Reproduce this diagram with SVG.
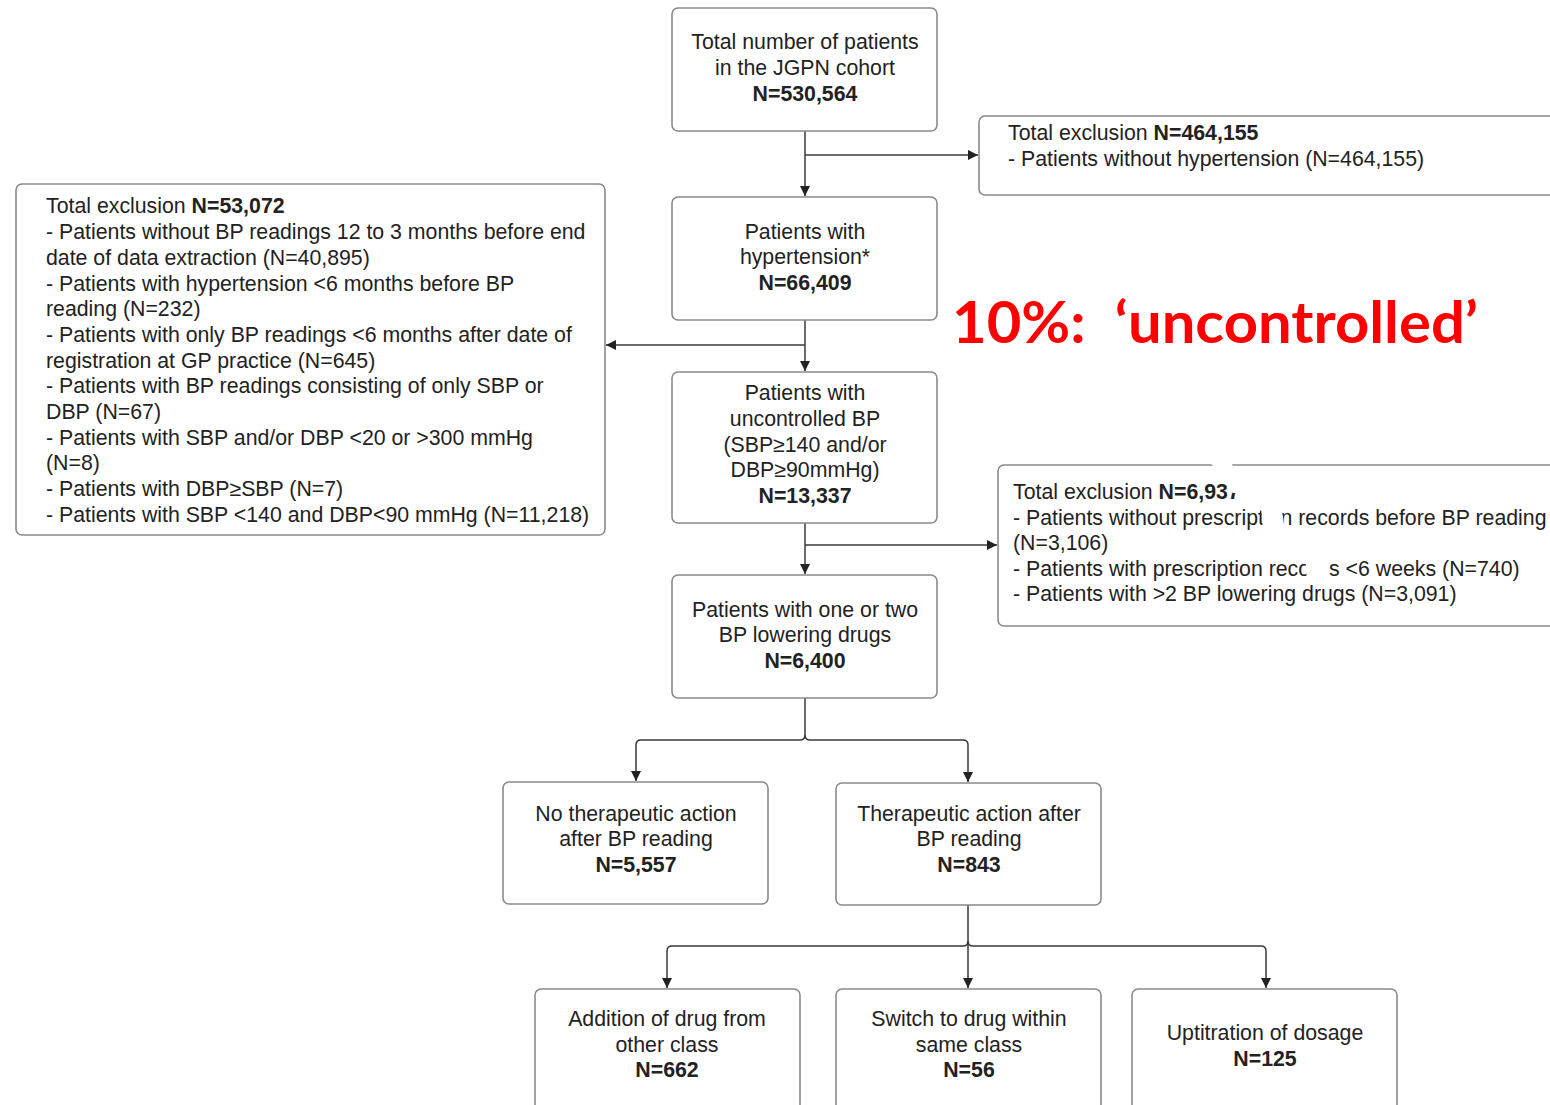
<svg xmlns="http://www.w3.org/2000/svg" width="1550" height="1105" viewBox="0 0 1550 1105">
<style>
.box{fill:#fff;stroke:#8a8a8a;stroke-width:1.6}
.t{font-family:"Liberation Sans",Arial,sans-serif;font-size:21.3px;fill:#222}
.c{text-anchor:middle}
.b{font-weight:bold}
.ln{fill:none;stroke:#3a3a3a;stroke-width:1.5}
.red{font-family:Lato,"Open Sans","Liberation Sans",sans-serif;font-weight:bold;font-size:58px;fill:#ff0000}
.patch{fill:#fff;stroke:none}
</style>
<defs>
<marker id="ah" viewBox="0 0 10 10" refX="10" refY="5" markerWidth="11" markerHeight="10" markerUnits="userSpaceOnUse" orient="auto">
<path d="M0,0 L10,5 L0,10 z" fill="#222"/>
</marker>
</defs>
<rect width="1550" height="1105" fill="#fff"/>

<g id="connectors">
<line class="ln" x1="805" y1="131" x2="805" y2="196" marker-end="url(#ah)"/>
<line class="ln" x1="805" y1="155" x2="978" y2="155" marker-end="url(#ah)"/>
<line class="ln" x1="805" y1="320" x2="805" y2="371" marker-end="url(#ah)"/>
<line class="ln" x1="805" y1="345" x2="606" y2="345" marker-end="url(#ah)"/>
<line class="ln" x1="805" y1="523" x2="805" y2="574" marker-end="url(#ah)"/>
<line class="ln" x1="805" y1="545" x2="997" y2="545" marker-end="url(#ah)"/>
<path class="ln" d="M805,698 V735 Q805,740 800,740 H641 Q636,740 636,745 V781" marker-end="url(#ah)"/>
<path class="ln" d="M805,735 Q805,740 810,740 H963 Q968,740 968,745 V782" marker-end="url(#ah)"/>
<path class="ln" d="M968,905 V941 Q968,946 963,946 H672 Q667,946 667,951 V988" marker-end="url(#ah)"/>
<line class="ln" x1="968" y1="941" x2="968" y2="988" marker-end="url(#ah)"/>
<path class="ln" d="M968,941 Q968,946 973,946 H1261 Q1266,946 1266,951 V988" marker-end="url(#ah)"/>
</g>

<g id="n-total">
<rect class="box" x="672" y="8" width="265" height="123" rx="6"/>
<text class="t c" x="805" y="49">Total number of patients</text>
<text class="t c" x="805" y="75">in the JGPN cohort</text>
<text class="t c b" x="805" y="101">N=530,564</text>
</g>

<g id="n-excl1">
<rect class="box" x="979" y="116" width="620" height="79" rx="6"/>
<text class="t" x="1008" y="140">Total exclusion <tspan class="b">N=464,155</tspan></text>
<text class="t" x="1008" y="166">- Patients without hypertension (N=464,155)</text>
</g>

<g id="n-hyp">
<rect class="box" x="672" y="197" width="265" height="123" rx="6"/>
<text class="t c" x="805" y="239">Patients with</text>
<text class="t c" x="805" y="264">hypertension*</text>
<text class="t c b" x="805" y="290">N=66,409</text>
</g>

<g id="n-label">
<text class="red" x="952" y="343" textLength="526" lengthAdjust="spacingAndGlyphs">10%:&#160; ‘uncontrolled’</text>
</g>

<g id="n-excl2">
<rect class="box" x="16" y="184" width="589" height="351" rx="6"/>
<text class="t" x="46" y="213">Total exclusion <tspan class="b">N=53,072</tspan></text>
<text class="t" x="46" y="239">- Patients without BP readings 12 to 3 months before end</text>
<text class="t" x="46" y="265">date of data extraction (N=40,895)</text>
<text class="t" x="46" y="291">- Patients with hypertension &lt;6 months before BP</text>
<text class="t" x="46" y="316">reading (N=232)</text>
<text class="t" x="46" y="342">- Patients with only BP readings &lt;6 months after date of</text>
<text class="t" x="46" y="368">registration at GP practice (N=645)</text>
<text class="t" x="46" y="393">- Patients with BP readings consisting of only SBP or</text>
<text class="t" x="46" y="419">DBP (N=67)</text>
<text class="t" x="46" y="445">- Patients with SBP and/or DBP &lt;20 or &gt;300 mmHg</text>
<text class="t" x="46" y="470">(N=8)</text>
<text class="t" x="46" y="496">- Patients with DBP≥SBP (N=7)</text>
<text class="t" x="46" y="522">- Patients with SBP &lt;140 and DBP&lt;90 mmHg (N=11,218)</text>
</g>

<g id="n-unc">
<rect class="box" x="672" y="372" width="265" height="151" rx="6"/>
<text class="t c" x="805" y="400">Patients with</text>
<text class="t c" x="805" y="426">uncontrolled BP</text>
<text class="t c" x="805" y="452">(SBP≥140 and/or</text>
<text class="t c" x="805" y="477">DBP≥90mmHg)</text>
<text class="t c b" x="805" y="503">N=13,337</text>
</g>

<g id="n-excl3">
<rect class="box" x="998" y="465" width="620" height="161" rx="6"/>
<text class="t" x="1013" y="499">Total exclusion <tspan class="b">N=6,937</tspan></text>
<text class="t" x="1013" y="525">- Patients without prescription records before BP reading</text>
<text class="t" x="1013" y="550">(N=3,106)</text>
<text class="t" x="1013" y="576">- Patients with prescription records &lt;6 weeks (N=740)</text>
<text class="t" x="1013" y="601">- Patients with &gt;2 BP lowering drugs (N=3,091)</text>
<path class="patch" d="M1207,458 L1229,458 L1246,493 L1233,493 z"/>
<path class="patch" d="M1261,505 L1281,505 L1285,530 L1263,530 z"/>
<path class="patch" d="M1305,555 L1328,555 L1330,582 L1307,582 z"/>
</g>

<g id="n-drugs">
<rect class="box" x="672" y="575" width="265" height="123" rx="6"/>
<text class="t c" x="805" y="617">Patients with one or two</text>
<text class="t c" x="805" y="642">BP lowering drugs</text>
<text class="t c b" x="805" y="668">N=6,400</text>
</g>

<g id="n-noaction">
<rect class="box" x="503" y="782" width="265" height="122" rx="6"/>
<text class="t c" x="636" y="821">No therapeutic action</text>
<text class="t c" x="636" y="846">after BP reading</text>
<text class="t c b" x="636" y="872">N=5,557</text>
</g>

<g id="n-action">
<rect class="box" x="836" y="783" width="265" height="122" rx="6"/>
<text class="t c" x="969" y="821">Therapeutic action after</text>
<text class="t c" x="969" y="846">BP reading</text>
<text class="t c b" x="969" y="872">N=843</text>
</g>

<g id="n-add">
<rect class="box" x="535" y="989" width="265" height="140" rx="6"/>
<text class="t c" x="667" y="1026">Addition of drug from</text>
<text class="t c" x="667" y="1052">other class</text>
<text class="t c b" x="667" y="1077">N=662</text>
</g>

<g id="n-switch">
<rect class="box" x="836" y="989" width="265" height="140" rx="6"/>
<text class="t c" x="969" y="1026">Switch to drug within</text>
<text class="t c" x="969" y="1052">same class</text>
<text class="t c b" x="969" y="1077">N=56</text>
</g>

<g id="n-uptit">
<rect class="box" x="1132" y="989" width="265" height="140" rx="6"/>
<text class="t c" x="1265" y="1040">Uptitration of dosage</text>
<text class="t c b" x="1265" y="1066">N=125</text>
</g>
</svg>
